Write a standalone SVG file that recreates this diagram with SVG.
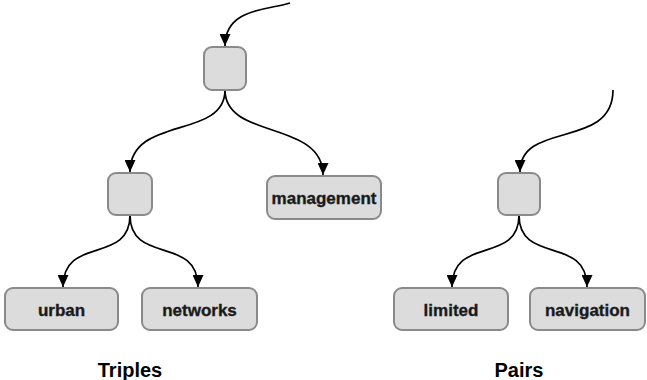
<svg xmlns="http://www.w3.org/2000/svg" width="647" height="380" viewBox="0 0 647 380">
  <defs>
    <marker id="arrow" viewBox="0 0 12 11" refX="12" refY="5.5" markerWidth="12" markerHeight="11" markerUnits="userSpaceOnUse" orient="auto">
      <path d="M0,0 L12,5.5 L0,11 z" fill="#000"/>
    </marker>
  </defs>
  <style>
    .box { fill: #dcdcdc; stroke: #8a8a8a; stroke-width: 2; }
    .edge { fill: none; stroke: #000; stroke-width: 1.7; marker-end: url(#arrow); }
    .label { font-family: "Liberation Sans", Arial, sans-serif; font-weight: bold; font-size: 17px; fill: #1a1a1a; stroke: #1a1a1a; stroke-width: 0.35; text-anchor: middle; }
    .caption { font-family: "Liberation Sans", Arial, sans-serif; font-weight: bold; font-size: 20px; fill: #000; text-anchor: middle; }
  </style>
  <rect width="647" height="380" fill="#fff"/>

  <g id="connectors">
    <path class="edge" d="M290,3 C268,10 225,8 225,46"/>
    <path class="edge" d="M225,90 C225,140 130,115 130,172"/>
    <path class="edge" d="M225,90 C225,140 323,120 323,175"/>
    <path class="edge" d="M130,215 C130,265 63,235 63,287"/>
    <path class="edge" d="M130,215 C130,265 198,235 198,287"/>
    <path class="edge" d="M613,90 C613,150 520,120 520,172"/>
    <path class="edge" d="M519,215 C519,265 452,235 452,287"/>
    <path class="edge" d="M519,215 C519,265 587,235 587,287"/>
  </g>

  <g id="root-triples"><rect class="box" x="204" y="47" width="42" height="43" rx="8"/></g>
  <g id="inner-triples"><rect class="box" x="108" y="173" width="44" height="42" rx="8"/></g>
  <g id="management"><rect class="box" x="267" y="176" width="114" height="43" rx="8"/><text class="label" x="324" y="204">management</text></g>
  <g id="urban"><rect class="box" x="5" y="288" width="113" height="42" rx="8"/><text class="label" x="61.5" y="316">urban</text></g>
  <g id="networks"><rect class="box" x="142" y="288" width="115" height="42" rx="8"/><text class="label" x="199.5" y="316">networks</text></g>

  <g id="root-pairs"><rect class="box" x="498" y="173" width="42" height="42" rx="8"/></g>
  <g id="limited"><rect class="box" x="394" y="288" width="114" height="42" rx="8"/><text class="label" x="451" y="316">limited</text></g>
  <g id="navigation"><rect class="box" x="530" y="288" width="115" height="42" rx="8"/><text class="label" x="587.5" y="316">navigation</text></g>

  <text class="caption" x="130" y="377">Triples</text>
  <text class="caption" x="519" y="377">Pairs</text>
</svg>
